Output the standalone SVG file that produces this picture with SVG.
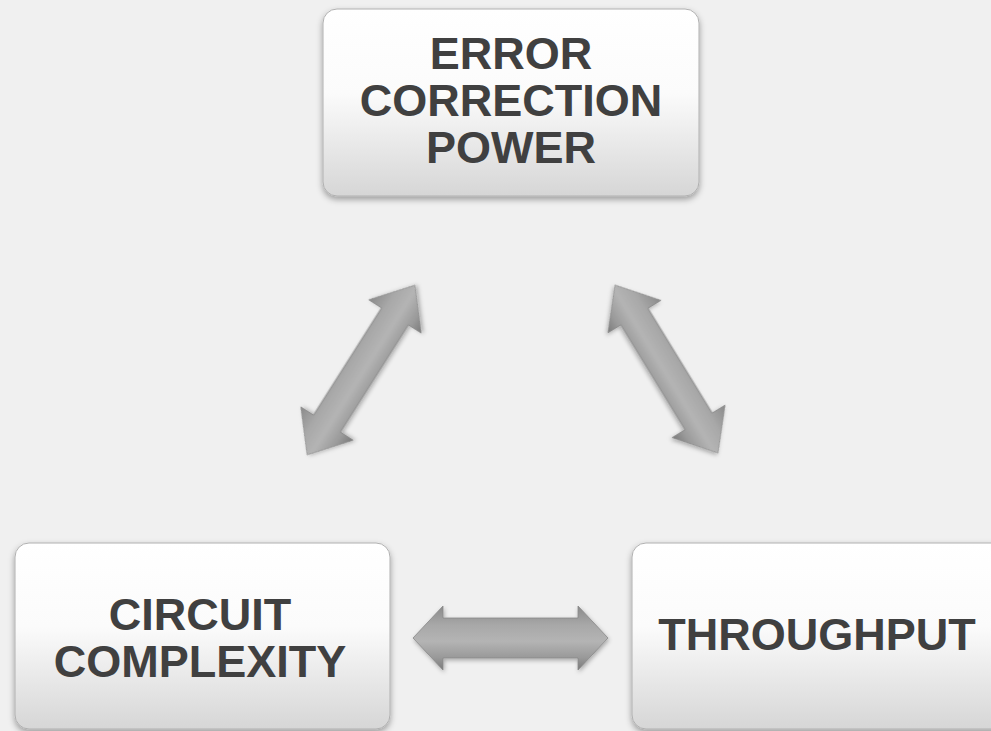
<svg xmlns="http://www.w3.org/2000/svg" width="991" height="731" viewBox="0 0 991 731">
<defs>
<linearGradient id="boxg" x1="0" y1="0" x2="0" y2="1">
<stop offset="0" stop-color="#ffffff"/>
<stop offset="0.45" stop-color="#fbfbfb"/>
<stop offset="1" stop-color="#d6d6d6"/>
</linearGradient>
<linearGradient id="arrg" x1="0" y1="0" x2="0" y2="1">
<stop offset="0" stop-color="#8a8a8a"/>
<stop offset="0.3" stop-color="#a8a8a8"/>
<stop offset="0.55" stop-color="#b4b4b4"/>
<stop offset="0.8" stop-color="#9a9a9a"/>
<stop offset="1" stop-color="#7a7a7a"/>
</linearGradient>
<filter id="sh" x="-10%" y="-10%" width="120%" height="130%">
<feDropShadow dx="0" dy="3" stdDeviation="3" flood-color="#000" flood-opacity="0.35"/>
</filter>
<filter id="ash" x="-20%" y="-20%" width="140%" height="140%">
<feDropShadow dx="1" dy="2" stdDeviation="2" flood-color="#000" flood-opacity="0.3"/>
</filter>
</defs>
<style>
.box{fill:url(#boxg);stroke:#b0b0b0;stroke-width:1;filter:url(#sh)}
.lbl{font-family:"Liberation Sans",Arial,sans-serif;font-weight:bold;font-size:45px;fill:#404040;text-anchor:middle}
.arr{fill:url(#arrg);stroke:#888;stroke-width:0.8;filter:url(#ash)}
</style>
<rect width="991" height="731" fill="#f0f0f0"/>
<g id="connectors">
<path class="arr" transform="translate(361,370) rotate(-57.6)" d="M -100.5 0 L -63.5 -31 L -63.5 -16 L 63.5 -16 L 63.5 -31 L 100.5 0 L 63.5 31 L 63.5 16 L -63.5 16 L -63.5 31 Z"/>
<path class="arr" transform="translate(666.5,369) rotate(58.5)" d="M -98.5 0 L -61.5 -31 L -61.5 -16 L 61.5 -16 L 61.5 -31 L 98.5 0 L 61.5 31 L 61.5 16 L -61.5 16 L -61.5 31 Z"/>
<path class="arr" transform="translate(510.5,638)" d="M -97.5 0 L -67.5 -32 L -67.5 -20 L 67.5 -20 L 67.5 -32 L 97.5 0 L 67.5 32 L 67.5 20 L -67.5 20 L -67.5 32 Z"/>
</g>
<g id="node-error">
<rect class="box" x="323" y="9" width="376" height="187" rx="14"/>
<text class="lbl" x="511" y="69">ERROR</text>
<text class="lbl" x="511" y="116">CORRECTION</text>
<text class="lbl" x="511" y="163">POWER</text>
</g>
<g id="node-circuit">
<rect class="box" x="15" y="543" width="375" height="186" rx="14"/>
<text class="lbl" x="200" y="630">CIRCUIT</text>
<text class="lbl" x="200" y="677">COMPLEXITY</text>
</g>
<g id="node-throughput">
<rect class="box" x="632" y="543" width="375" height="186" rx="14"/>
<text class="lbl" x="817" y="650">THROUGHPUT</text>
</g>
</svg>
